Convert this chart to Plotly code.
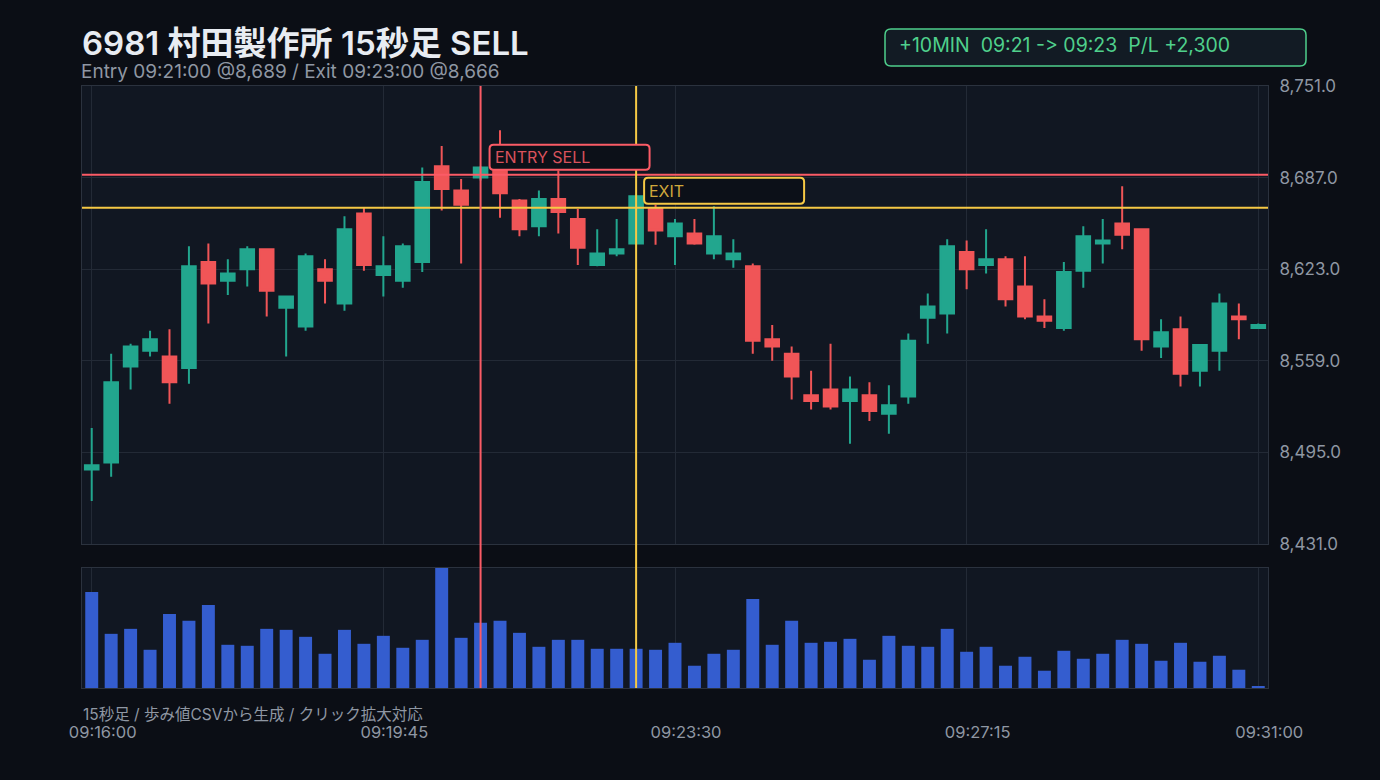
import pandas as pd
import plotly.graph_objects as go

# ---------------- data ----------------
times = list(pd.date_range("2024-01-01 09:16:00", periods=61, freq="15s"))

opens = [8483, 8488, 8555, 8566, 8562, 8554, 8628, 8615, 8623, 8637,
         8596, 8583, 8623, 8599, 8662, 8619, 8615, 8628, 8695, 8678,
         8687, 8692, 8671, 8653, 8672, 8658, 8626, 8634, 8641, 8665,
         8646, 8648, 8634, 8630, 8625, 8574, 8564, 8535, 8539, 8531,
         8535, 8522, 8534, 8589, 8592, 8635, 8626, 8630, 8611, 8590,
         8582, 8622, 8641, 8655, 8651, 8569, 8581, 8552, 8566, 8590,
         8582]
highs = [8512, 8564, 8571, 8580, 8581, 8639, 8641, 8630, 8639, 8637,
         8604, 8634, 8630, 8660, 8666, 8646, 8641, 8694, 8709, 8686,
         8695, 8720, 8672, 8678, 8692, 8665, 8651, 8658, 8675, 8668,
         8658, 8658, 8667, 8644, 8627, 8584, 8569, 8552, 8571, 8548,
         8544, 8542, 8578, 8606, 8644, 8643, 8651, 8632, 8632, 8602,
         8628, 8653, 8658, 8681, 8651, 8588, 8590, 8570, 8606, 8599,
         8585]
lows = [8461, 8478, 8539, 8562, 8529, 8543, 8585, 8605, 8611, 8590,
        8562, 8580, 8599, 8594, 8622, 8604, 8610, 8621, 8664, 8627,
        8685, 8659, 8646, 8646, 8648, 8626, 8625, 8632, 8640, 8640,
        8626, 8640, 8630, 8624, 8564, 8559, 8532, 8525, 8525, 8501,
        8517, 8508, 8529, 8571, 8578, 8609, 8620, 8597, 8588, 8582,
        8580, 8610, 8627, 8637, 8566, 8561, 8541, 8541, 8552, 8574,
        8582]
closes = [8486, 8544, 8569, 8574, 8544, 8625, 8613, 8620, 8637, 8608,
          8604, 8632, 8615, 8651, 8626, 8625, 8639, 8684, 8679, 8668,
          8694, 8676, 8651, 8672, 8663, 8638, 8634, 8637, 8674, 8650,
          8655, 8641, 8646, 8634, 8573, 8569, 8548, 8531, 8527, 8539,
          8524, 8528, 8573, 8597, 8639, 8623, 8630, 8602, 8590, 8587,
          8621, 8646, 8643, 8647, 8574, 8579, 8550, 8570, 8599, 8588,
          8584]
volumes = [2890, 1630, 1780, 1150, 2230, 2020, 2500, 1300, 1270, 1780,
           1750, 1540, 1030, 1750, 1330, 1570, 1210, 1450, 3610, 1510,
           1960, 2020, 1660, 1240, 1450, 1450, 1180, 1180, 1180, 1150,
           1360, 670, 1030, 1150, 2680, 1300, 2020, 1360, 1390, 1480,
           850, 1570, 1270, 1240, 1780, 1090, 1240, 670, 940, 520,
           1120, 880, 1030, 1450, 1330, 820, 1360, 790, 970, 550,
           40]

entry_time = "2024-01-01 09:21:00"
exit_time = "2024-01-01 09:23:00"
entry_price = 8689
exit_price = 8666

price_ticks = [8431, 8495, 8559, 8623, 8687, 8751]
time_ticks = ["2024-01-01 09:16:00", "2024-01-01 09:19:45", "2024-01-01 09:23:30",
              "2024-01-01 09:27:15", "2024-01-01 09:31:00"]
time_labels = ["09:16:00", "09:19:45", "09:23:30", "09:27:15", "09:31:00"]

title_text = "6981 村田製作所 15秒足 SELL"
subtitle_text = "Entry 09:21:00 @8,689 / Exit 09:23:00 @8,666"
footer_text = "15秒足 / 歩み値CSVから生成 / クリック拡大対応"
# zero-width non-joiner keeps "->" from turning into an arrow ligature
badge_text = "+10MIN\u00a0\u00a009:21 -\u200c> 09:23\u00a0\u00a0P/L +2,300"

# ---------------- style ----------------
FONT = "Inter, Noto Sans CJK JP, sans-serif"
PAPER = "#0b0e15"
PLOT = "#111722"
GRID = "#232a36"
AXLINE = "#2b323e"
UP = "#22a68e"
DOWN = "#f05557"
VOL = "#345dcf"
RED = "#fb5b66"
YEL = "#f6c945"
TICK = "#8f97a3"
GREEN = "#4fd08c"


def rrect(x0, y0, x1, y1, r):
    return (f"M{x0 + r},{y0} L{x1 - r},{y0} Q{x1},{y0} {x1},{y0 + r} "
            f"L{x1},{y1 - r} Q{x1},{y1} {x1 - r},{y1} L{x0 + r},{y1} "
            f"Q{x0},{y1} {x0},{y1 - r} L{x0},{y0 + r} Q{x0},{y0} {x0 + r},{y0} Z")


fig = go.Figure()

fig.add_trace(go.Candlestick(
    x=times, open=opens, high=highs, low=lows, close=closes,
    increasing=dict(line=dict(color=UP, width=2), fillcolor=UP),
    decreasing=dict(line=dict(color=DOWN, width=2), fillcolor=DOWN),
    whiskerwidth=0, xaxis="x", yaxis="y", showlegend=False,
))

fig.add_trace(go.Bar(
    x=times, y=volumes, marker=dict(color=VOL, line=dict(width=0)),
    width=10000, xaxis="x2", yaxis="y2", showlegend=False,
))

x_range = ["2024-01-01 09:15:52.5", "2024-01-01 09:31:07.5"]

fig.update_layout(
    width=1380, height=780,
    margin=dict(l=82, r=112, t=86, b=92),
    paper_bgcolor=PAPER, plot_bgcolor=PLOT,
    font=dict(family=FONT, color=TICK, size=16),
    showlegend=False,
    boxgap=0.3, boxgroupgap=0.0,
    xaxis=dict(
        domain=[0, 1], anchor="y", range=x_range, type="date",
        rangeslider=dict(visible=False),
        tickvals=time_ticks, ticktext=time_labels, showticklabels=False,
        showgrid=True, gridcolor=GRID, gridwidth=1,
        showline=True, linecolor=AXLINE, linewidth=1, mirror=True,
        zeroline=False,
    ),
    yaxis=dict(
        domain=[0.2392, 1], anchor="x", side="right", range=[8431, 8751],
        tickvals=price_ticks, tickformat=",.1f",
        showgrid=True, gridcolor=GRID, gridwidth=1,
        showline=True, linecolor=AXLINE, linewidth=1, mirror=True,
        zeroline=False, ticklabelstandoff=7,
        tickfont=dict(family=FONT, size=17, color=TICK),
    ),
    xaxis2=dict(
        domain=[0, 1], anchor="y2", range=x_range, type="date", matches="x",
        tickvals=time_ticks, ticktext=time_labels,
        showgrid=True, gridcolor=GRID, gridwidth=1,
        showline=True, linecolor=AXLINE, linewidth=1, mirror=True,
        zeroline=False, ticklabelstandoff=29, ticklabelshift=11,
        tickfont=dict(family=FONT, size=16.5, color=TICK),
    ),
    yaxis2=dict(
        domain=[0, 0.1993], anchor="x2", range=[0, 3610],
        showticklabels=False, showgrid=False,
        showline=True, linecolor=AXLINE, linewidth=1, mirror=True,
        zeroline=False,
    ),
)

shapes = [
    dict(type="line", xref="paper", x0=0, x1=1, yref="y", y0=entry_price, y1=entry_price,
         line=dict(color=RED, width=2), layer="above"),
    dict(type="line", xref="paper", x0=0, x1=1, yref="y", y0=exit_price, y1=exit_price,
         line=dict(color=YEL, width=2), layer="above"),
    dict(type="line", xref="x", x0=entry_time, x1=entry_time, yref="paper", y0=0, y1=1,
         line=dict(color=RED, width=2), layer="above"),
    dict(type="line", xref="x", x0=exit_time, x1=exit_time, yref="paper", y0=0, y1=1,
         line=dict(color=YEL, width=2), layer="above"),
    dict(type="path", xref="x", xsizemode="pixel", xanchor=entry_time,
         yref="y", ysizemode="pixel", yanchor=entry_price,
         path=rrect(9, 5, 169, 30, 4), fillcolor="#0c1018",
         line=dict(color=RED, width=2), layer="above"),
    dict(type="path", xref="x", xsizemode="pixel", xanchor=exit_time,
         yref="y", ysizemode="pixel", yanchor=exit_price,
         path=rrect(8, 4, 168, 30, 4), fillcolor="#0c1018",
         line=dict(color=YEL, width=2), layer="above"),
    dict(type="path", xref="paper", xsizemode="pixel", xanchor=(885 - 82) / 1186,
         yref="paper", ysizemode="pixel", yanchor=(688 - 66) / 602,
         path=rrect(0, 0, 421, 37, 6), fillcolor="#121b24",
         line=dict(color=GREEN, width=1.5), layer="above"),
]
fig.update_layout(shapes=shapes)

annotations = [
    dict(text=title_text, xref="paper", yref="paper", x=0, y=(688 - 42.5) / 602,
         xanchor="left", yanchor="middle", showarrow=False, xshift=-2,
         font=dict(family=FONT, size=33, color="#e8ecf2", weight=600)),
    dict(text=subtitle_text, xref="paper", yref="paper", x=0, y=(688 - 71.5) / 602,
         xanchor="left", yanchor="middle", showarrow=False, xshift=-3,
         font=dict(family=FONT, size=19, color=TICK)),
    dict(text=footer_text, xref="paper", yref="paper", x=0, y=(688 - 714) / 602,
         xanchor="left", yanchor="middle", showarrow=False, xshift=-1,
         font=dict(family=FONT, size=15.5, color=TICK)),
    dict(text=badge_text, xref="paper", yref="paper", x=(900 - 82) / 1186, y=(688 - 45) / 602,
         xanchor="left", yanchor="middle", showarrow=False, xshift=-3,
         font=dict(family=FONT, size=19.5, color=GREEN)),
    dict(text="ENTRY SELL", xref="x", yref="y", x=entry_time, y=entry_price,
         xanchor="left", yanchor="middle", xshift=12, yshift=18, showarrow=False,
         font=dict(family=FONT, size=16, color="#d9525c")),
    dict(text="EXIT", xref="x", yref="y", x=exit_time, y=exit_price,
         xanchor="left", yanchor="middle", xshift=11, yshift=17, showarrow=False,
         font=dict(family=FONT, size=16, color="#cfa83c")),
]
fig.update_layout(annotations=annotations)

fig.write_html("out.html")
